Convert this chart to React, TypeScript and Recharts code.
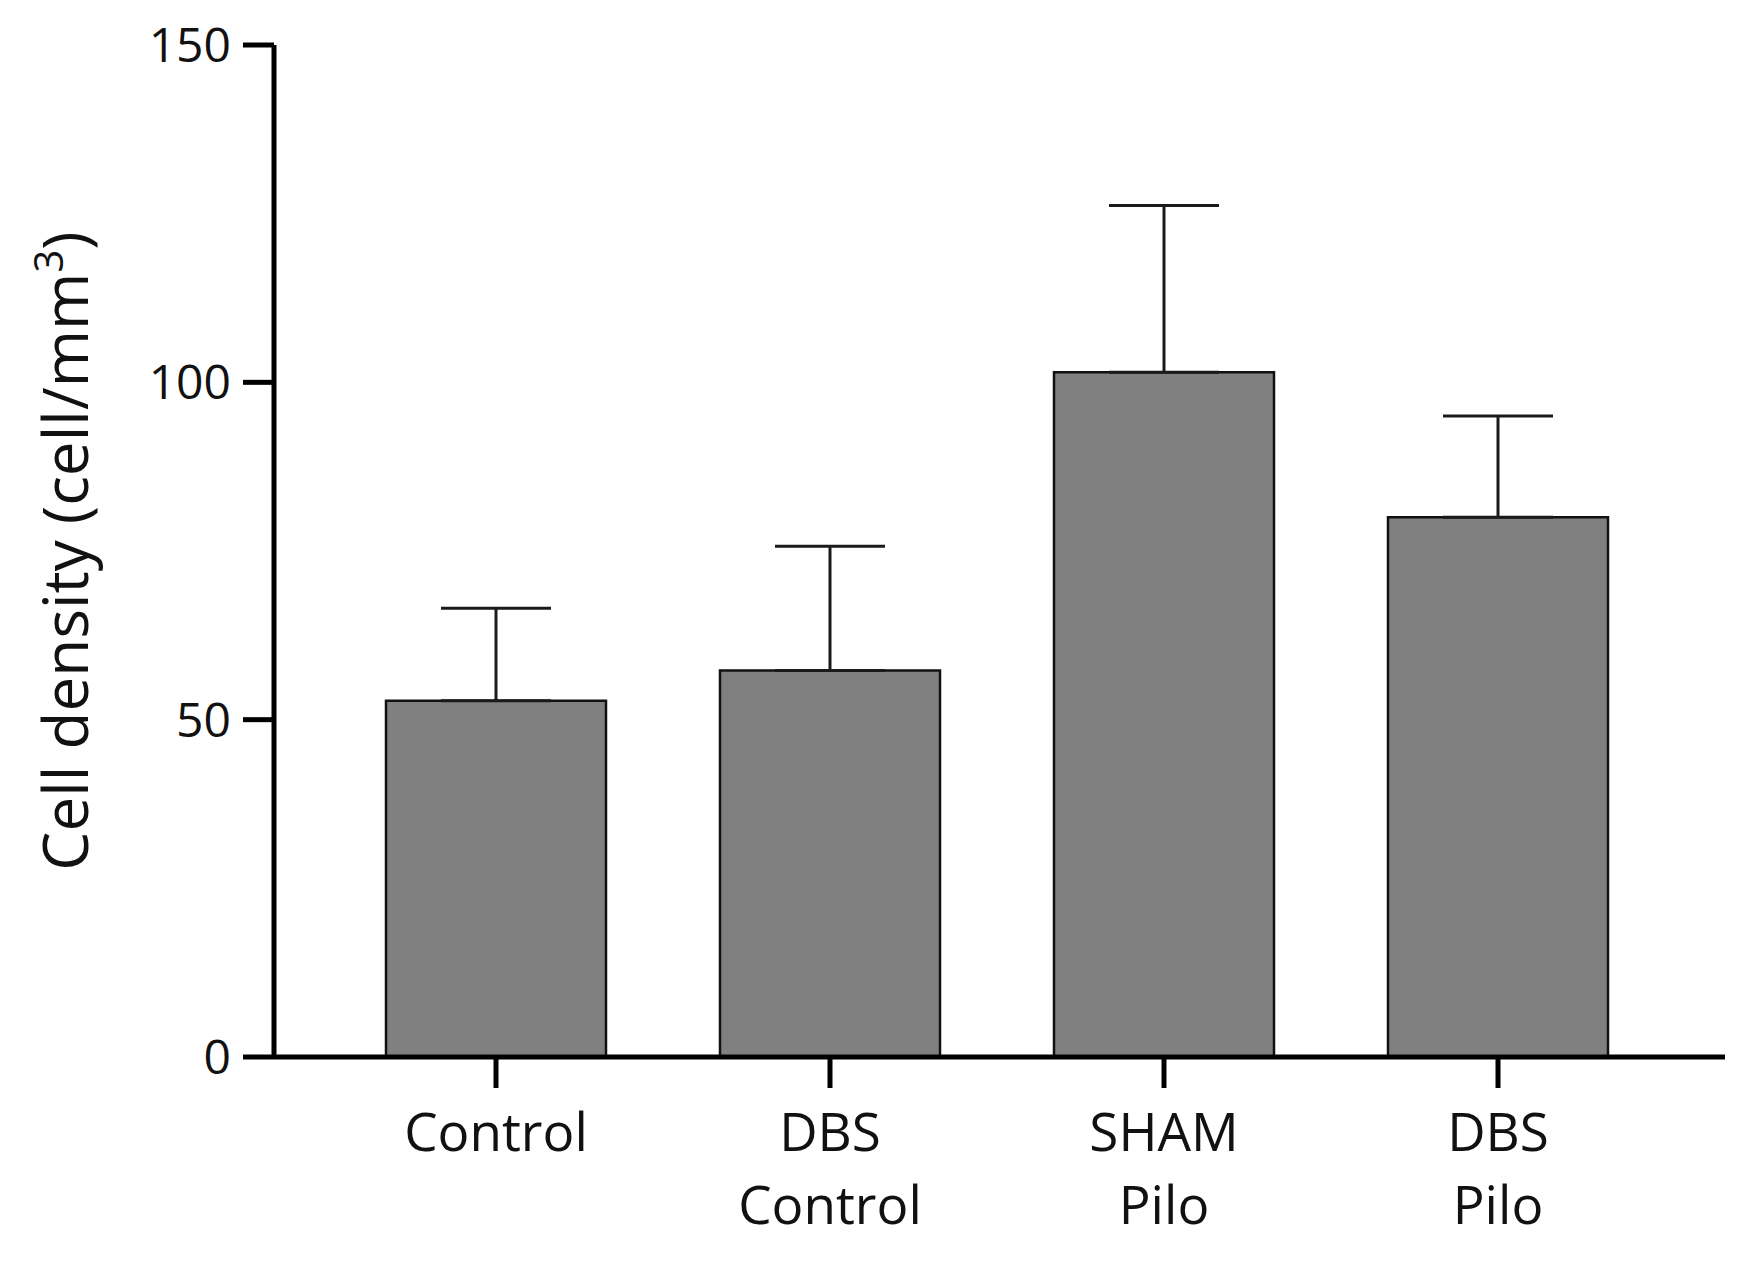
import React from 'react';
import { BarChart, Bar, XAxis, YAxis, ErrorBar, Label } from 'recharts';

const categories = ['Control', 'DBS\nControl', 'SHAM\nPilo', 'DBS\nPilo'];
const means = [52.8, 57.3, 101.5, 80];
const sems = [13.7, 18.4, 24.7, 15];
const yTicks = [0, 50, 100, 150];

const data = categories.map((name, i) => ({
  name,
  mean: means[i],
  err: [0, sems[i]],
}));

const FONT = '"Open Sans", "Noto Sans", sans-serif';

function CategoryTick(props: any) {
  const { x, y, payload } = props;
  const lines = String(payload.value).split('\n');
  return (
    <g transform={`translate(${x},${y})`}>
      {lines.map((line, i) => (
        <text
          key={i}
          x={0}
          y={61 + i * 73}
          textAnchor="middle"
          fontFamily={FONT}
          fontSize={53}
          fill="#111"
        >
          {line}
        </text>
      ))}
    </g>
  );
}

function YTitle(props: any) {
  const vb = props.viewBox || { x: 0, y: 0, width: 0, height: 0 };
  const cx = vb.x + 88;
  const cy = vb.y + vb.height / 2;
  return (
    <text
      x={cx}
      y={cy}
      transform={`rotate(-90, ${cx}, ${cy})`}
      textAnchor="middle"
      fontFamily={FONT}
      fontSize={62}
      fill="#111"
    >
      <tspan>Cell density (cell/mm</tspan>
      <tspan dy={-25} fontSize={40}>3</tspan>
      <tspan dy={25}>)</tspan>
    </text>
  );
}

export default function App() {
  return (
    <div style={{ position: 'absolute', left: 0, top: 0, background: '#fff' }}>
      <BarChart
        width={1760}
        height={1269}
        data={data}
        margin={{ top: 45, right: 35, bottom: 0, left: 0 }}
        barCategoryGap={0}
      >
        <XAxis
          dataKey="name"
          height={212}
          padding={{ left: 55, right: 60 }}
          axisLine={{ stroke: '#000', strokeWidth: 5 }}
          tickLine={{ stroke: '#000', strokeWidth: 5 }}
          tickSize={31}
          tick={<CategoryTick />}
          interval={0}
        />
        <YAxis
          width={274}
          domain={[0, 150]}
          ticks={yTicks}
          allowDataOverflow
          axisLine={{ stroke: '#000', strokeWidth: 5 }}
          tickLine={{ stroke: '#000', strokeWidth: 5 }}
          tickSize={31}
          tickMargin={12}
          tick={{ fontFamily: FONT, fontSize: 48, fill: '#111' }}
        >
          <Label content={<YTitle />} />
        </YAxis>
        <Bar
          dataKey="mean"
          fill="#808080"
          stroke="#111"
          strokeWidth={2.5}
          barSize={220}
          isAnimationActive={false}
        >
          <ErrorBar
            dataKey="err"
            direction="y"
            width={55}
            stroke="#1a1a1a"
            strokeWidth={3}
            isAnimationActive={false}
          />
        </Bar>
      </BarChart>
    </div>
  );
}
